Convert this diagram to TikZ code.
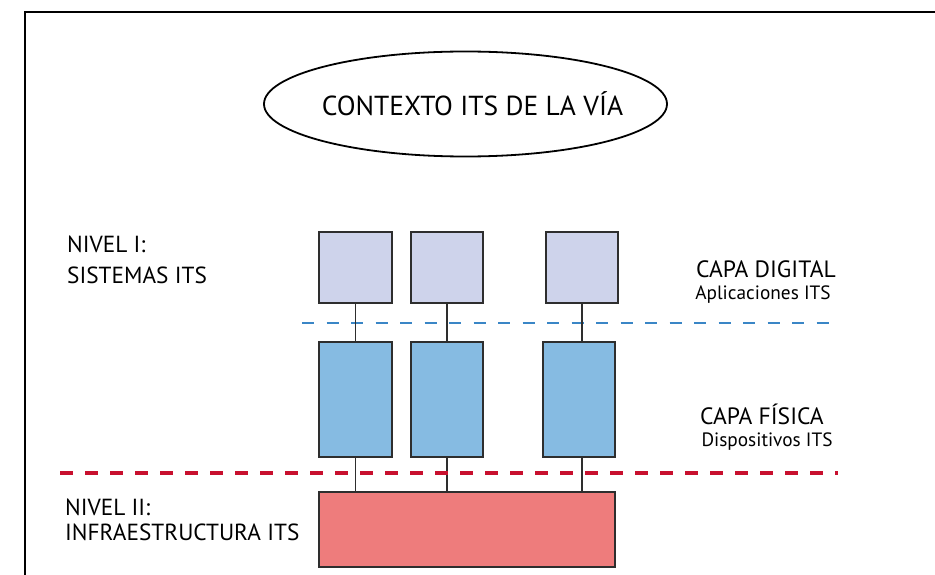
\documentclass[tikz,border=0pt]{standalone}
\usepackage{fontspec}
\setmainfont{PT Sans}
\usetikzlibrary{shapes.geometric}
\definecolor{lav}{HTML}{CED3EB}
\definecolor{devblue}{HTML}{86BBE2}
\definecolor{infrared}{HTML}{EE7C7C}
\definecolor{boxline}{HTML}{2E2E2E}
\definecolor{dashblue}{HTML}{3A86C6}
\definecolor{dashred}{HTML}{C8102E}
\begin{document}
\begin{tikzpicture}[x=1pt,y=-1pt,
  box/.style={draw=boxline, line width=1.8pt, inner sep=0pt},
  appbox/.style={box, fill=lav, minimum width=72pt, minimum height=71pt},
  devbox/.style={box, fill=devblue, minimum width=72pt, minimum height=115pt},
  link/.style={draw=boxline, line width=1.7pt},
  lvl/.style={inner sep=0pt, anchor=base west, font=\fontsize{23.3}{27}\selectfont},
  capa/.style={inner sep=0pt, anchor=base, font=\fontsize{23.6}{27}\selectfont},
  sub/.style={inner sep=0pt, anchor=base, font=\fontsize{19.3}{23}\selectfont}]
\useasboundingbox (0,0) rectangle (935,575);
\fill[white] (0,0) rectangle (935,575);
\draw[line width=2.5pt] (935,12) -- (25,12) -- (25,575);
\node[draw, ellipse, line width=1.8pt, minimum width=403pt, minimum height=105pt, inner sep=0pt]
  (ctx) at (465.5,104) {\makebox[0pt]{\hspace*{14pt}\fontsize{27.5}{32}\selectfont CONTEXTO ITS DE LA VÍA}};
% application boxes
\node[appbox, minimum width=73pt] (t1) at (355.5,267.5) {};
\node[appbox] (t2) at (447,267.5) {};
\node[appbox] (t3) at (582,267.5) {};
% device boxes
\node[devbox, minimum width=73pt] (m1) at (355.5,399.5) {};
\node[devbox] (m2) at (447,399.5) {};
\node[devbox] (m3) at (579,399.5) {};
% infrastructure
\node[box, fill=infrared, minimum width=296pt, minimum height=75pt] (base) at (467,529.5) {};
% separators
\draw[dashblue, line width=1.5pt, dash pattern=on 12pt off 12.5pt] (302,323) -- (833,323);
% connectors
\draw[link] (t1.south) -- (t1.south |- m1.north);
\draw[link] (t2.south) -- (t2.south |- m2.north);
\draw[link] (t3.south) -- (t3.south |- m3.north);
\draw[link] (t1.south |- m1.south) -- (t1.south |- base.north);
\draw[link] (t2.south |- m2.south) -- (t2.south |- base.north);
\draw[link] (t3.south |- m3.south) -- (t3.south |- base.north);
\draw[dashred, line width=4pt, dash pattern=on 13pt off 12pt] (60,473) -- (838,473);
% labels
\node[lvl] (n1a) at (67,252) {NIVEL I:};
\node[lvl] (n1b) at (67,283) {SISTEMAS ITS};
\node[lvl] (n2a) at (65,515) {NIVEL II:};
\node[lvl] (n2b) at (65,540) {INFRAESTRUCTURA ITS};
\node[capa] (cd) at (766,277) {CAPA DIGITAL};
\node[sub] (cda) at (763,299) {Aplicaciones ITS};
\node[capa] (cf) at (762,424) {CAPA FÍSICA};
\node[sub] (cfa) at (767,446) {Dispositivos ITS};
\end{tikzpicture}
\end{document}
